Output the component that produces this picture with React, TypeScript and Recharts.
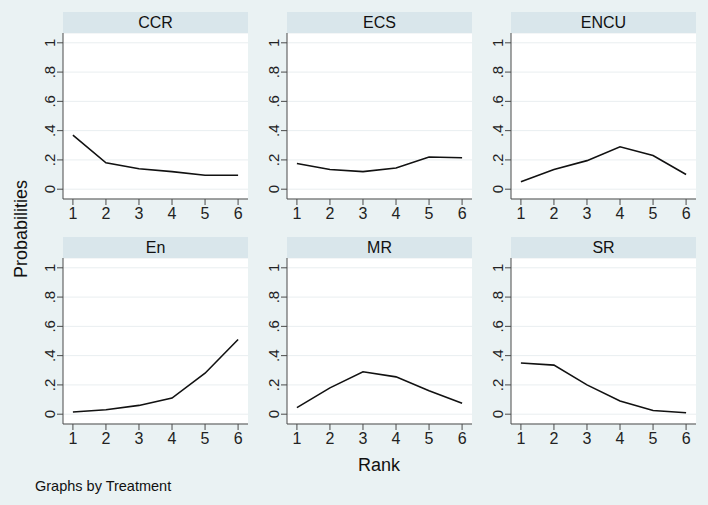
import React from "react";
import { LineChart, Line, XAxis, YAxis, CartesianGrid } from "recharts";

const ranks = [1, 2, 3, 4, 5, 6];
const treatments = ["CCR", "ECS", "ENCU", "En", "MR", "SR"];

const ccr = [0.37, 0.18, 0.14, 0.12, 0.095, 0.095];
const ecs = [0.175, 0.135, 0.12, 0.145, 0.22, 0.215];
const encu = [0.05, 0.135, 0.195, 0.29, 0.23, 0.1];
const en = [0.015, 0.03, 0.06, 0.11, 0.28, 0.51];
const mr = [0.045, 0.18, 0.29, 0.255, 0.16, 0.075];
const sr = [0.35, 0.335, 0.2, 0.09, 0.025, 0.01];

const yTicks = [0, 0.2, 0.4, 0.6, 0.8, 1];
const yTickLabels = ["0", ".2", ".4", ".6", ".8", "1"];

const seriesByTreatment = [ccr, ecs, encu, en, mr, sr];

const FONT = "'Liberation Sans', Arial, sans-serif";
const BG = "#eaf2f3";
const STRIP = "#d9e6eb";
const AXIS = "#4a4a4a";

const panelLefts = [63, 287, 511];
const stripTops = [12, 237];

function YTick(props: any) {
  const { x, y, payload } = props;
  const idx = yTicks.indexOf(payload.value);
  return (
    <g transform={`translate(${x},${y})`}>
      <text
        transform="rotate(-90)"
        textAnchor="middle"
        fontSize={15}
        fill="#222"
        fontFamily={FONT}
      >
        {idx >= 0 ? yTickLabels[idx] : payload.value}
      </text>
    </g>
  );
}

function Panel({ name, values, left, top }: { name: string; values: number[]; left: number; top: number }) {
  const data = ranks.map((r, i) => ({ rank: r, p: values[i] }));
  return (
    <div style={{ position: "absolute", left: left - 23, top }}>
      <div
        style={{
          position: "absolute",
          left: 23,
          top: 0,
          width: 185,
          height: 21,
          background: STRIP,
          textAlign: "center",
          lineHeight: "21px",
          fontSize: 16,
          color: "#111",
        }}
      >
        {name}
      </div>
      <div style={{ position: "absolute", left: 0, top: 21 }}>
        <LineChart width={208} height={192} data={data} margin={{ top: 0, right: 0, left: 0, bottom: 0 }}>
          <CartesianGrid vertical={false} stroke="#e9eef0" fill="#ffffff" />
          <XAxis
            dataKey="rank"
            type="number"
            domain={[0.7, 6.3]}
            allowDataOverflow
            ticks={ranks}
            height={26}
            tickSize={6}
            tickMargin={3}
            stroke={AXIS}
            tick={{ fill: "#222", fontSize: 16, fontFamily: FONT }}
          />
          <YAxis
            type="number"
            domain={[-0.067, 1.067]}
            allowDataOverflow
            ticks={yTicks}
            width={23}
            tickSize={6}
            tickMargin={2}
            stroke={AXIS}
            tick={<YTick />}
          />
          <Line
            type="linear"
            dataKey="p"
            stroke="#111111"
            strokeWidth={1.6}
            dot={false}
            isAnimationActive={false}
          />
        </LineChart>
      </div>
    </div>
  );
}

export default function App() {
  return (
    <div
      style={{
        position: "absolute",
        left: 0,
        top: 0,
        width: 708,
        height: 505,
        background: BG,
        fontFamily: FONT,
        overflow: "hidden",
      }}
    >
      {treatments.map((t, i) => (
        <Panel
          key={t}
          name={t}
          values={seriesByTreatment[i]}
          left={panelLefts[i % 3]}
          top={stripTops[Math.floor(i / 3)]}
        />
      ))}
      <div
        style={{
          position: "absolute",
          left: 21,
          top: 229,
          transform: "translate(-50%, -50%) rotate(-90deg)",
          fontSize: 18,
          color: "#111",
          whiteSpace: "nowrap",
        }}
      >
        Probabilities
      </div>
      <div
        style={{
          position: "absolute",
          left: 379,
          top: 465,
          transform: "translate(-50%, -50%)",
          fontSize: 18,
          color: "#111",
        }}
      >
        Rank
      </div>
      <div
        style={{
          position: "absolute",
          left: 35,
          top: 486,
          transform: "translateY(-50%)",
          fontSize: 14.5,
          color: "#111",
          whiteSpace: "nowrap",
        }}
      >
        Graphs by Treatment
      </div>
    </div>
  );
}
